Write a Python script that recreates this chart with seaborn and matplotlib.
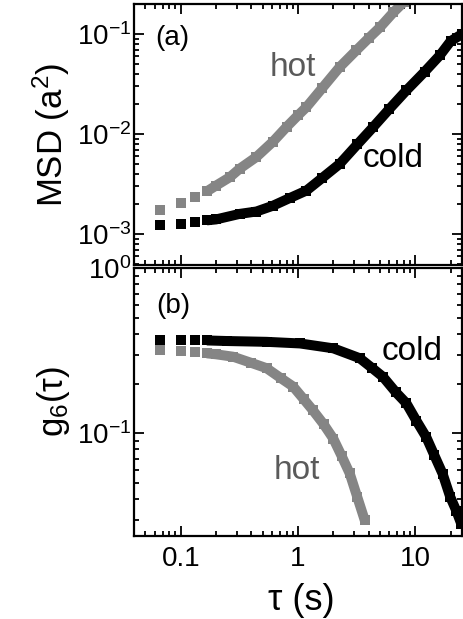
import matplotlib
matplotlib.use("Agg")
import matplotlib.pyplot as plt
import seaborn as sns
from matplotlib.ticker import LogLocator, NullFormatter

# MSD (panel a)
tau_msd_hot = [0.0667, 0.1, 0.133, 0.167, 0.2, 0.262, 0.318, 0.442, 0.612, 0.8,
               1.0, 1.18, 1.6, 2.27, 3.15, 4.0, 5.0, 6.5, 8.0]
msd_hot = [1.74e-3, 2.06e-3, 2.37e-3, 2.67e-3, 3.05e-3, 3.70e-3, 4.5e-3, 5.9e-3, 8.4e-3, 1.18e-2,
           1.54e-2, 1.86e-2, 2.86e-2, 4.69e-2, 6.9e-2, 9.1e-2, 0.117, 0.165, 0.21]

tau_msd_cold = [0.0667, 0.1, 0.133, 0.167, 0.2, 0.318, 0.442, 0.612, 0.85, 1.18,
                1.6, 2.27, 3.2, 4.36, 6.0, 8.41, 12.0, 16.2, 20.0, 25.0]
msd_cold = [1.23e-3, 1.26e-3, 1.31e-3, 1.37e-3, 1.40e-3, 1.59e-3, 1.68e-3, 1.92e-3, 2.29e-3, 2.72e-3,
            3.62e-3, 5.04e-3, 7.87e-3, 1.17e-2, 1.78e-2, 2.74e-2, 4.2e-2, 6.14e-2, 8.5e-2, 0.10]

# g6 (panel b)
tau_g_hot = [0.0667, 0.1, 0.133, 0.167, 0.2, 0.28, 0.4, 0.54, 0.72, 0.91,
             1.12, 1.34, 1.65, 2.0, 2.35, 2.76, 3.2, 3.71]
g_hot = [0.320, 0.317, 0.312, 0.305, 0.301, 0.291, 0.267, 0.248, 0.215, 0.192,
         0.161, 0.138, 0.114, 0.093, 0.0733, 0.0573, 0.0413, 0.0298]

tau_g_cold = [0.0667, 0.1, 0.133, 0.167, 0.25, 0.54, 1.04, 2.0, 3.36, 4.3,
              5.3, 6.8, 8.4, 10.2, 12.4, 14.5, 17.1, 19.8, 22.4, 24.6]
g_cold = [0.368, 0.367, 0.366, 0.365, 0.362, 0.358, 0.350, 0.327, 0.285, 0.248,
          0.220, 0.178, 0.152, 0.1196, 0.095, 0.074, 0.057, 0.0415, 0.034, 0.0285]

HOT = "#858585"
HOT_TXT = "#5a5a5a"
COLD = "black"

sns.set_style("ticks")
plt.rcParams["font.family"] = ["Liberation Sans", "DejaVu Sans"]
plt.rcParams["mathtext.fontset"] = "custom"
plt.rcParams["mathtext.rm"] = "Liberation Sans"
plt.rcParams["mathtext.default"] = "regular"
plt.rcParams["text.color"] = "black"
plt.rcParams["axes.labelcolor"] = "black"
plt.rcParams["axes.edgecolor"] = "black"
plt.rcParams["xtick.color"] = "black"
plt.rcParams["ytick.color"] = "black"

fig = plt.figure(figsize=(4.64, 6.19), dpi=100)
ax1 = fig.add_axes([0.2888, 0.5719, 0.7069, 0.4216])
ax2 = fig.add_axes([0.2888, 0.1341, 0.7069, 0.4329])


def draw(ax, x, y, color):
    # first three frames are separate squares, the rest overlap into a band
    sns.lineplot(x=x[3:], y=y[3:], ax=ax, color=color, lw=7.2, sort=False,
                 estimator=None, solid_capstyle="butt", solid_joinstyle="round")
    sns.scatterplot(x=x, y=y, ax=ax, color=color, marker="s", s=48, linewidth=0)


draw(ax1, tau_msd_hot, msd_hot, HOT)
draw(ax1, tau_msd_cold, msd_cold, COLD)
draw(ax2, tau_g_hot, g_hot, HOT)
draw(ax2, tau_g_cold, g_cold, COLD)

for ax in (ax1, ax2):
    ax.set_xscale("log")
    ax.set_yscale("log")
    ax.set_xlim(0.04, 25)
    ax.xaxis.set_minor_locator(LogLocator(base=10, subs=range(2, 10)))
    ax.yaxis.set_minor_locator(LogLocator(base=10, subs=range(2, 10)))
    ax.yaxis.set_minor_formatter(NullFormatter())
    ax.xaxis.set_minor_formatter(NullFormatter())
    ax.tick_params(which="both", direction="in", top=True, right=True, width=1.3,
                   labelsize=20)
    ax.tick_params(which="major", length=7)
    ax.tick_params(which="minor", length=3.5)
    for sp in ax.spines.values():
        sp.set_linewidth(1.6)
    ax.set_xlabel("")

ax1.set_ylim(4.9e-4, 0.2)
ax2.set_ylim(0.024, 1.0)

ax1.set_xticks([0.1, 1, 10])
ax1.set_xticklabels([])
ax2.set_xticks([0.1, 1, 10], labels=["0.1", "1", "10"])
ax2.tick_params(axis="x", pad=7)
ax1.tick_params(axis="y", pad=2)
ax2.tick_params(axis="y", pad=2)

ax1.set_ylabel("MSD (a$^2$)", fontsize=25)
ax2.set_ylabel("g$_6$(τ)", fontsize=25)
ax1.yaxis.set_label_coords(-0.19, 0.5)
ax2.yaxis.set_label_coords(-0.19, 0.5)
ax2.set_xlabel("τ (s)", fontsize=26)
ax2.xaxis.set_label_coords(0.51, -0.175)

ax1.text(0.064, 0.843, "(a)", transform=ax1.transAxes, fontsize=20, va="baseline")
ax2.text(0.067, 0.831, "(b)", transform=ax2.transAxes, fontsize=20, va="baseline")
ax1.text(0.574, 0.0378, "hot", color=HOT_TXT, fontsize=24, va="baseline")
ax1.text(3.58, 4.66e-3, "cold", color=COLD, fontsize=24, va="baseline")
ax2.text(5.21, 0.278, "cold", color=COLD, fontsize=24, va="baseline")
ax2.text(0.62, 0.0533, "hot", color=HOT_TXT, fontsize=24, va="baseline")

fig.savefig("out.png", dpi=100)
